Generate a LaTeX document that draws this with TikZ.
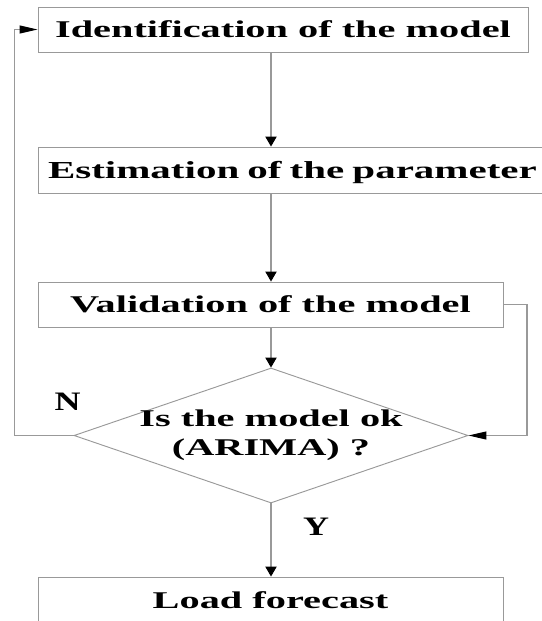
\documentclass[tikz,border=0pt]{standalone}
\usepackage{fontspec}
\setmainfont{Liberation Serif}[FakeStretch=1.68]
\newfontfamily\yesnofont{Liberation Serif}[FakeStretch=1.35]
\usetikzlibrary{shapes.geometric,arrows.meta}

\begin{document}
\begin{tikzpicture}[x=0.75pt, y=-0.75pt,
    stage/.style ={rectangle, draw=black!40, line width=0.7pt, inner xsep=6pt,
      text height=12pt, text depth=0pt, font=\fontsize{18}{21.6}\selectfont\bfseries},
    decision/.style ={diamond, draw=black!40, line width=0.7pt, inner sep=0pt,
      minimum width=295.5pt, minimum height=101.25pt},
    question/.style ={align=center, font=\fontsize{18}{21.75}\selectfont\bfseries},
    answer/.style ={font=\yesnofont\fontsize{20}{24}\selectfont\bfseries,
      text height=13pt, text depth=0pt, inner sep=0pt},
    flow/.style ={draw=black!40, line width=0.8pt,
      -{Triangle[length=7.5pt,width=8.5pt,color=black]}},
    back/.style ={draw=black!40, line width=0.8pt,
      -{Triangle[length=13.5pt,width=6pt,color=black]}}]
   \useasboundingbox (0,0) rectangle (542,621);
   \clip (0,0) rectangle (542,621);

   \node[stage, minimum width=367.5pt, minimum height=33.75pt] (ident) at (283,29.5) {Identification of the model};
   \node[stage, minimum width=391.5pt, minimum height=34.5pt, inner xsep=7.5pt, text width=376.5pt, align=left,
     font=\fontsize{18.3}{22}\selectfont\bfseries] (estim) at (299,170) {Estimation of the parameter};
   \node[stage, minimum width=348.75pt, minimum height=33.75pt] (valid) at (270.5,304.5) {Validation of the model};
   \node[decision] (ok) at (271,435.5) {};
   \node[question] (oktext) at (ok) {Is the model ok\\(ARIMA) ?};
   \node[stage, minimum width=348.75pt, minimum height=34.5pt] (load) at (270.5,600) {Load forecast};

   \node[answer] (no) at (67.5,402) {N};
   \node[answer] (yes) at (316,527) {Y};

   \coordinate (nback) at (14.5,435.5);
   \coordinate (vback) at (527,304.5);

   \draw[flow] (ident.south -| ok.north) to (estim.north -| ok.north);
   \draw[flow] (estim.south -| ok.north) to (valid.north -| ok.north);
   \draw[flow] (valid.south -| ok.north) to (ok.north);
   \draw[flow] (ok.south) to (load.north -| ok.south);

   \draw[back] (ok.west) -- (nback) |- (ident.west);
   \draw[back] (valid.east) -- (vback) |- (ok.east);
 \end{tikzpicture}
\end{document}
